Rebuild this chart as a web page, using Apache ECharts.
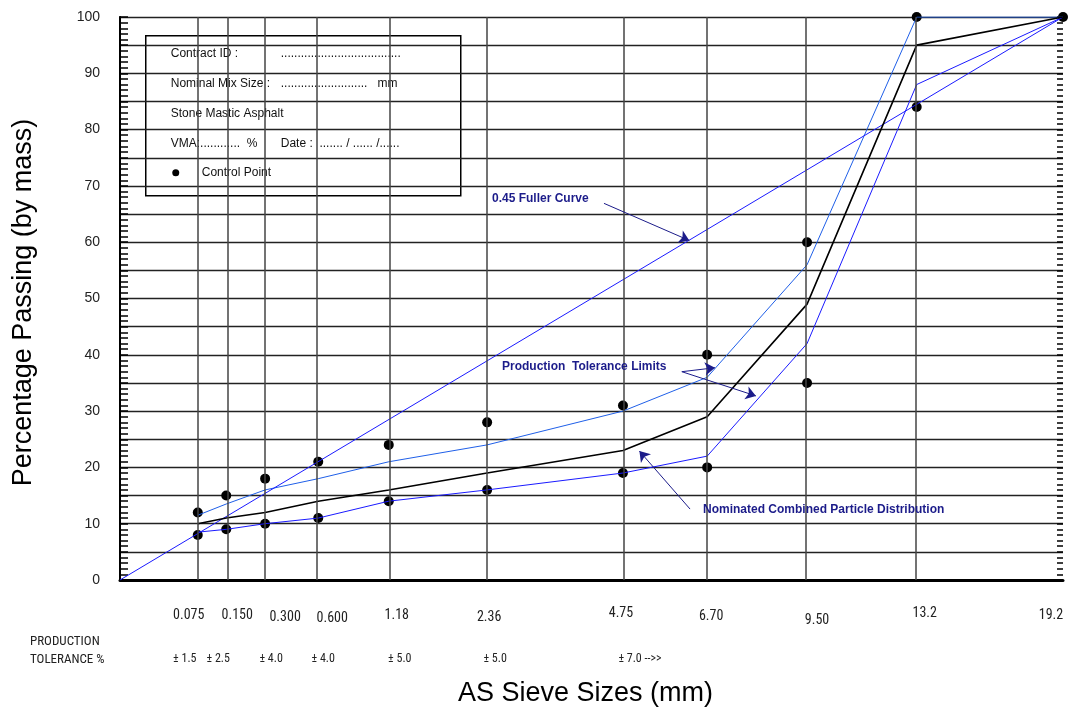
<!DOCTYPE html>
<html>
<head>
<meta charset="utf-8">
<script src="https://cdn.jsdelivr.net/npm/echarts@6/dist/echarts.min.js"></script>
<style>
 html,body{margin:0;padding:0;background:#fff;}
 #chart{width:1073px;height:711px;}
</style>
</head>
<body>
<div id="chart"></div>
<script>
// sieve sizes (mm) and their tick labels
var sieveSizes = [0.075, 0.15, 0.3, 0.6, 1.18, 2.36, 4.75, 6.7, 9.5, 13.2, 19.2];
var sieveLabels = ['0.075', '0.150', '0.300', '0.600', '1.18', '2.36', '4.75', '6.70', '9.50', '13.2', '19.2'];
var toleranceLabels = ['± 1.5', '± 2.5', '± 4.0', '± 4.0', '± 5.0', '± 5.0', '± 7.0 -->>'];

// percentage passing
var nominal      = [10, 11, 12, 14, 16, 19, 23, 29, 49, 95, 100];
var upperLimit   = [11.5, 13.5, 16, 18, 21, 24, 30, 36, 56, 100, 100];
var lowerLimit   = [8.5, 9, 10, 11, 14, 16, 19, 22, 42, 88, 100];
var controlUpper = [12, 15, 18, 21, 24, 28, 31, 40, 60, 100, 100];
var controlLower = [8, 9, 10, 11, 14, 16, 19, 20, 35, 84, null];
var fullerSizes  = [0, 19.2];
var fullerValues = [0, 100];

// hand-placed label nudges in the original sheet, [dx, dy] in px
var sizeNudge = [[-9,6],[11,6],[20,8],[14,9],[8,6],[2,8],[-2,4],[4,7],[10,11],[8,4],[-12,6]];
var tolNudge  = [-13, -8, 6, 5, 11, 8, 17];

// x axis is sieve size raised to the 0.45 power
function px(d){ return Math.pow(d, 0.45); }
var xMax = px(19.2);
var sieveX = sieveSizes.map(px);

function pairs(vals){
  var out = [];
  for (var i = 0; i < vals.length; i++) {
    if (vals[i] != null) out.push([sieveX[i], vals[i]]);
  }
  return out;
}
function indexOfX(v){
  for (var i = 0; i < sieveX.length; i++) {
    if (Math.abs(sieveX[i] - v) < 1e-6) return i;
  }
  return -1;
}

var navy = '#1c1c8a';
var font = "'Liberation Sans', Arial, sans-serif";
var narrow = "'Liberation Sans Narrow', 'Roboto Condensed', 'Liberation Sans', sans-serif";

function nudgeStyle(dx, dy, size){
  return {
    padding: [dy, dx < 0 ? -2 * dx : 0, 0, dx > 0 ? 2 * dx : 0],
    fontFamily: narrow, fontSize: size, color: '#222'
  };
}
var sizeRich = {}, tolRich = {};
sizeNudge.forEach(function(n, i){ sizeRich['s' + i] = nudgeStyle(n[0], n[1], 14); });
tolNudge.forEach(function(n, i){ tolRich['t' + i] = nudgeStyle(n, 0, 12); });

function tickAxis(pos, len){
  return {
    type: 'value', min: 0, max: 100, interval: 1, position: pos,
    axisLine: { show: false },
    axisTick: { show: true, inside: true, length: len, lineStyle: { color: '#000', width: 1.5 } },
    splitLine: { show: false },
    axisLabel: { show: false }
  };
}

var chart = echarts.init(document.getElementById('chart'));
var option = {
  animation: false,
  backgroundColor: '#fff',
  grid: { left: 120, right: 10, top: 17, bottom: 131, outerBoundsMode: 'none', containLabel: false },
  xAxis: [{
    type: 'value', min: 0, max: xMax,
    name: 'AS Sieve Sizes (mm)', nameLocation: 'middle', nameGap: 100,
    nameTextStyle: { fontFamily: font, fontSize: 27, color: '#000', padding: [0, 12, 0, 0] },
    axisLine: { lineStyle: { color: '#000', width: 3 } },
    axisTick: { show: false },
    splitLine: { show: false },
    axisLabel: {
      customValues: sieveX, margin: 22, hideOverlap: false, showMinLabel: true, showMaxLabel: true,
      fontFamily: narrow, fontSize: 14, color: '#222',
      formatter: function(v){
        var i = indexOfX(v);
        return '{s' + i + '|' + sieveLabels[i] + '}';
      },
      rich: sizeRich
    }
  }, {
    type: 'value', min: 0, max: xMax, position: 'bottom',
    axisLine: { show: false }, axisTick: { show: false }, splitLine: { show: false },
    axisLabel: {
      customValues: sieveX.slice(0, toleranceLabels.length), margin: 73,
      hideOverlap: false, showMinLabel: true, showMaxLabel: true,
      fontFamily: narrow, fontSize: 12, color: '#222',
      formatter: function(v){
        var i = indexOfX(v);
        return '{t' + i + '|' + toleranceLabels[i] + '}';
      },
      rich: tolRich
    }
  }],
  yAxis: [{
    type: 'value', min: 0, max: 100, interval: 5,
    name: 'Percentage Passing (by mass)', nameLocation: 'middle', nameGap: 83,
    nameTextStyle: { fontFamily: font, fontSize: 27, color: '#000', padding: [0, 8, 0, 0] },
    axisLine: { show: true, lineStyle: { color: '#000', width: 2 } },
    axisTick: { show: false },
    splitLine: { show: true, lineStyle: { color: '#222', width: 1.3 } },
    axisLabel: {
      margin: 20, fontFamily: font, fontSize: 14, color: '#222',
      formatter: function(v){ return v % 10 === 0 ? String(v) : ''; }
    }
  }, {
    type: 'value', min: 0, max: 100, interval: 5, position: 'right',
    axisLine: { show: true, lineStyle: { color: '#000', width: 1.5 } },
    axisTick: { show: false },
    splitLine: { show: false },
    axisLabel: { show: false }
  }, tickAxis('left', 8), tickAxis('right', 6)],
  series: [{
    // vertical grid lines at the sieve sizes
    type: 'line', data: [], silent: true, yAxisIndex: 1,
    markLine: {
      silent: true, symbol: 'none', label: { show: false },
      lineStyle: { color: '#444', width: 1.5, type: 'solid' },
      data: sieveX.slice(0, 10).map(function(x){ return { xAxis: x }; })
    }
  }, {
    type: 'line', data: [], silent: true, yAxisIndex: 2
  }, {
    type: 'line', data: [], silent: true, yAxisIndex: 3
  }, {
    name: 'Upper limit', type: 'line', data: pairs(upperLimit), showSymbol: false,
    lineStyle: { color: '#1f5fe8', width: 1 }
  }, {
    name: 'Lower limit', type: 'line', data: pairs(lowerLimit), showSymbol: false,
    lineStyle: { color: '#1a1aff', width: 1 }
  }, {
    name: 'Fuller', type: 'line', showSymbol: false,
    data: fullerSizes.map(function(d, i){ return [px(d), fullerValues[i]]; }),
    lineStyle: { color: '#1a1aff', width: 1 }
  }, {
    name: 'Nominated', type: 'line', data: pairs(nominal), showSymbol: false,
    lineStyle: { color: '#000', width: 1.6 }
  }, {
    name: 'Control', type: 'scatter', symbolSize: 10,
    itemStyle: { color: '#000', opacity: 1, borderWidth: 0 },
    data: pairs(controlUpper).concat(pairs(controlLower))
  }, {
    // annotation arrows, in axis coordinates
    type: 'line', data: [], silent: true,
    markLine: {
      silent: true, symbol: ['none', 'arrow'], symbolSize: 10, label: { show: false },
      lineStyle: { color: navy, width: 1, type: 'solid' },
      data: [
        [{ coord: [1.940, 66.9] }, { coord: [2.282, 60.3] }],
        [{ coord: [2.252, 37.0] }, { coord: [2.385, 37.7] }],
        [{ coord: [2.252, 37.0] }, { coord: [2.549, 32.7] }],
        [{ coord: [2.285, 12.6] }, { coord: [2.082, 22.9] }]
      ]
    }
  }],
  graphic: [{
    type: 'group', left: 145, top: 35, z: 100,
    children: [
      { type: 'rect', shape: { x: 0, y: 0, width: 315, height: 160 },
        style: { fill: '#fff', stroke: '#000', lineWidth: 1.5 } },
      { type: 'text', x: 25, y: 12, style: { text: 'Contract ID :', font: '12px ' + font, fill: '#111' } },
      { type: 'text', x: 135, y: 12, style: { text: '....................................', font: '12px ' + font, fill: '#111' } },
      { type: 'text', x: 25, y: 42, style: { text: 'Nominal Mix Size :', font: '12px ' + font, fill: '#111' } },
      { type: 'text', x: 135, y: 42, style: { text: '..........................   mm', font: '12px ' + font, fill: '#111' } },
      { type: 'text', x: 25, y: 72, style: { text: 'Stone Mastic Asphalt', font: '12px ' + font, fill: '#111' } },
      { type: 'text', x: 25, y: 102, style: { text: 'VMA:............  %       Date :  ....... / ...... /......', font: '12px ' + font, fill: '#111' } },
      { type: 'circle', shape: { cx: 30, cy: 137, r: 3.5 }, style: { fill: '#000' } },
      { type: 'text', x: 56, y: 131, style: { text: 'Control Point', font: '12px ' + font, fill: '#111' } }
    ]
  }, {
    type: 'text', left: 30, top: 633, z: 100,
    style: { text: 'PRODUCTION\nTOLERANCE %', font: '13px ' + narrow, lineHeight: 18, fill: '#222' }
  }, {
    type: 'text', left: 492, top: 193, z: 100,
    style: { text: '0.45 Fuller Curve', font: 'bold 12px ' + font, fill: navy }
  }, {
    type: 'text', left: 502, top: 361, z: 100,
    style: { text: 'Production  Tolerance Limits', font: 'bold 12px ' + font, fill: navy }
  }, {
    type: 'text', left: 703, top: 504, z: 100,
    style: { text: 'Nominated Combined Particle Distribution', font: 'bold 12px ' + font, fill: navy }
  }]
};
chart.setOption(option);
</script>
</body>
</html>
